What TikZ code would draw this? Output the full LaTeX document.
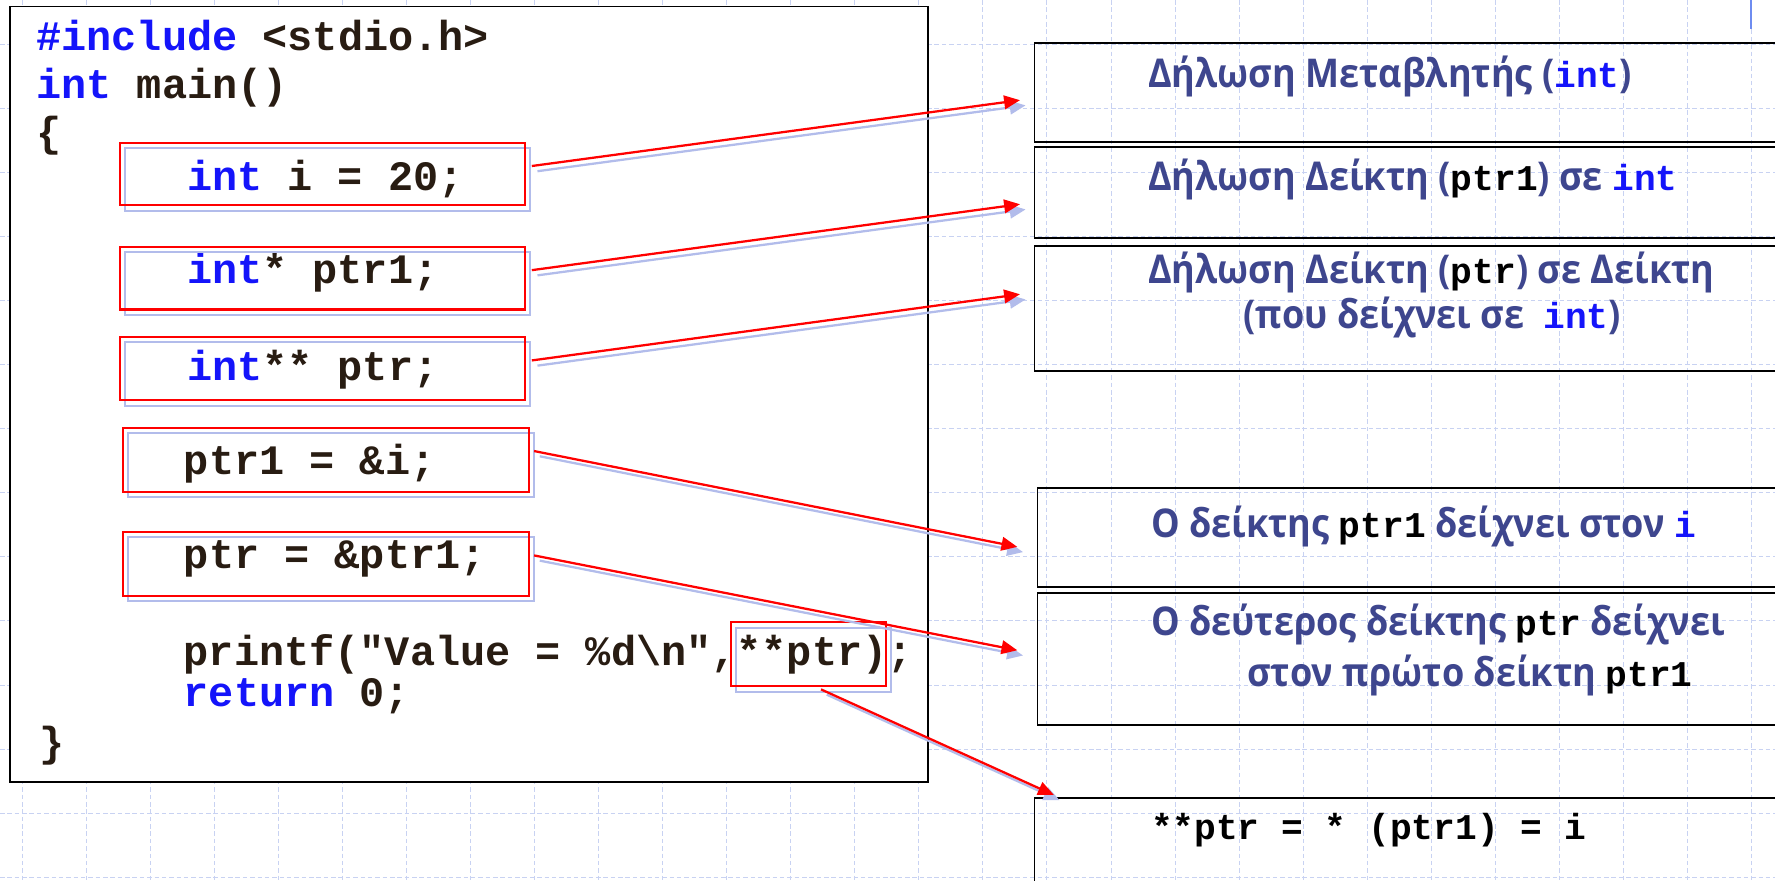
\documentclass[tikz,border=0pt]{standalone}
\usepackage{fontspec}
\usetikzlibrary{arrows.meta}
\newfontfamily\grfont[FakeStretch=0.91]{Open Sans}
\newfontfamily\monof{Liberation Mono}
\definecolor{kwblue}{RGB}{20,20,250}
\definecolor{codetxt}{RGB}{40,28,18}
\definecolor{grtxt}{RGB}{62,70,142}
\definecolor{gridc}{RGB}{200,210,242}
\definecolor{shb}{RGB}{178,188,235}
\definecolor{barc}{RGB}{110,140,240}
\newcommand\codefont{\monof\bfseries\fontsize{37}{40}\selectfont}
\newcommand\smallcode{\monof\bfseries\fontsize{32}{36}\selectfont}
\newcommand\kwd[1]{\textcolor{kwblue}{#1}}
\newcommand\cm[1]{{\smallcode\color{black}#1}}
\newcommand\cmb[1]{{\smallcode\color{kwblue}#1}}
\tikzset{
  gridline/.style={draw=gridc, line width=0.8pt, dash pattern=on 4pt off 2.5pt},
  codeln/.style={anchor=base west, inner sep=0pt, text=codetxt, font=\codefont},
  grln/.style={anchor=base west, inner sep=0pt, text=grtxt, font=\grfont\bfseries\fontsize{35}{38}\selectfont},
  redbox/.style={draw=red, line width=1.8pt, inner sep=0pt, anchor=north west,
    preaction={draw=shb, line width=1.8pt, transform canvas={shift={(4.5pt,-5pt)}}}},
  rbox/.style={draw=black, line width=1.6pt, inner sep=0pt, anchor=north west, minimum width=700pt},
  redarrow/.style={draw=red, line width=2pt, -{Triangle[length=14pt,width=12pt]}},
  shadowarrow/.style={draw=shb, line width=2pt, -{Triangle[length=14pt,width=12pt]},
    transform canvas={shift={(5pt,-4.6pt)}}}
}
\begin{document}
\begin{tikzpicture}[x=1pt,y=-1pt]
\useasboundingbox (0,0) rectangle (1568,778);
\fill[white] (0,0) rectangle (1568,778);
% background grid
\foreach \k in {0,...,27} \draw[gridline] ({19.7+56.57*\k},0) -- ({19.7+56.57*\k},778);
\foreach \k in {0,...,13} \draw[gridline] (0,{39.1+56.6*\k}) -- (1568,{39.1+56.6*\k});
\draw[barc, line width=1.8pt] (1547,0) -- (1547,25.6);
% code box
\node[draw=black, fill=white, line width=1.5pt, inner sep=0pt, anchor=north west,
      minimum width=811pt, minimum height=685pt] (code) at (8,5) {};
\node[codeln] (l1) at (32,44.2) {\kwd{\#include} <stdio.h>};
\node[codeln] (l2) at (32,86.9) {\kwd{int} main()};
\node[codeln] (l3) at (32,129) {\{};
\node[codeln] (l4) at (165,168.4) {\kwd{int} i = 20;};
\node[codeln] (l5) at (165,250.3) {\kwd{int}* ptr1;};
\node[codeln] (l6) at (165,335.7) {\kwd{int}** ptr;};
\node[codeln] (l7) at (162.3,419.6) {ptr1 = \&i;};
\node[codeln] (l8) at (162.3,502) {ptr = \&ptr1;};
\node[codeln] (l9) at (162.2,587.5) {printf("Value = \%d\textbackslash n",**ptr);};
\node[codeln] (l10) at (162.2,624.3) {\kwd{return} 0;};
\node[codeln] (l11) at (34.8,668.4) {\}};
% red highlight boxes
\node[redbox, minimum width=358pt, minimum height=55.5pt] (r1) at (105,125) {};
\node[redbox, minimum width=358pt, minimum height=55.5pt] (r2) at (105,217) {};
\node[redbox, minimum width=358pt, minimum height=56pt] (r3) at (105,296.5) {};
\node[redbox, minimum width=358pt, minimum height=56.5pt] (r4) at (108,377) {};
\node[redbox, minimum width=358pt, minimum height=56.5pt] (r5) at (108,468.8) {};
\node[redbox, minimum width=137pt, minimum height=56.4pt] (r6) at (644.6,548.6) {};
% right boxes
\node[rbox, minimum height=87pt] (bA) at (913,37.4) {};
\node[rbox, minimum height=80.6pt] (bB) at (913,129) {};
\node[rbox, minimum height=110.5pt] (bC) at (913,216.4) {};
\node[rbox, minimum height=87pt] (bD) at (915.7,430.5) {};
\node[rbox, minimum height=117.3pt] (bE) at (915.7,522.7) {};
\node[rbox, minimum height=200pt] (bF) at (913,703.8) {};
% right box texts
\node[grln] (tA) at (1014,77.1) {Δήλωση Μεταβλητής (\cmb{int})};
\node[grln] (tB) at (1014,168.4) {Δήλωση Δείκτη (\cm{ptr1}) σε \cmb{int}};
\node[grln] (tC1) at (1014,250.3) {Δήλωση Δείκτη (\cm{ptr}) σε Δείκτη};
\node[grln, anchor=base] (tC2) at (1265,290) {(που δείχνει σε\ \ \cmb{int})};
\node[grln] (tD) at (1016.6,474.7) {Ο δείκτης \cm{ptr1} δείχνει στον \cmb{i}};
\node[grln] (tE1) at (1016.6,561.5) {Ο δεύτερος δείκτης \cm{ptr} δείχνει};
\node[grln] (tE2) at (1101.6,606) {στον πρώτο δείκτη \cm{ptr1}};
\node[grln] (tF) at (1016.6,742) {\cm{**ptr = * (ptr1) = i}};
% connector end points
\coordinate (s1) at ([shift={(5pt,7pt)}]r1.east);
\coordinate (s2) at ([shift={(5pt,7pt)}]r2.east);
\coordinate (s3) at ([shift={(5pt,7pt)}]r3.east);
\coordinate (s4) at ([shift={(4pt,7.7pt)}]r4.east);
\coordinate (s5) at ([shift={(4pt,7.3pt)}]r5.east);
\coordinate (s6) at ([shift={(11.3pt,-2.2pt)}]r6.south);
\coordinate (t1) at ([shift={(-12pt,-6.8pt)}]bA.west);
\coordinate (t2) at ([shift={(-12pt,-10.3pt)}]bB.west);
\coordinate (t3) at ([shift={(-12pt,12.5pt)}]bC.west);
\coordinate (t4) at ([shift={(-17pt,-8.3pt)}]bD.west);
\coordinate (t5) at ([shift={(-17pt,7.7pt)}]bE.west);
\coordinate (t6) at ([shift={(18pt,1.5pt)}]bF.north west);
\foreach \i in {1,...,6} {
  \draw[shadowarrow] (s\i) -- (t\i);
  \draw[redarrow] (s\i) -- (t\i);
}
\end{tikzpicture}
\end{document}
